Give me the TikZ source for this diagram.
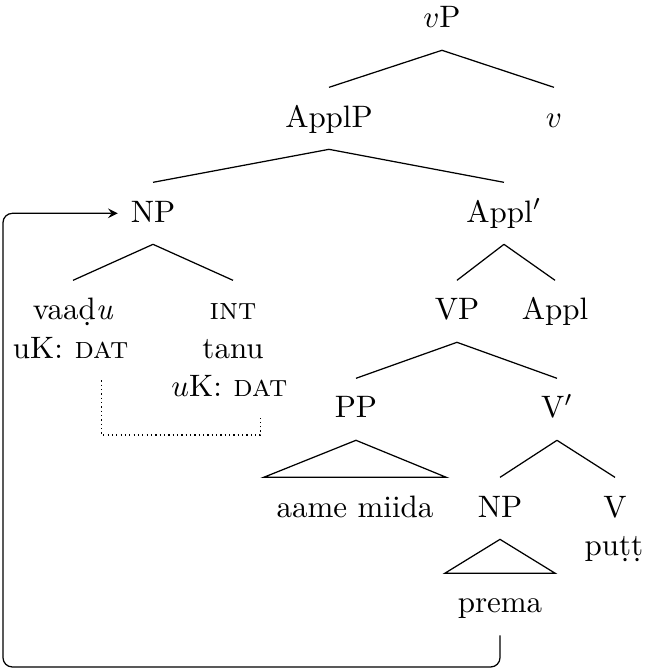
\documentclass[tikz,border=0pt]{standalone}
\begin{document}
\begin{tikzpicture}[cat/.style={anchor=base, inner xsep=4pt, inner ysep=5pt, text height=7.6pt, text depth=2pt}]
	\useasboundingbox (0,0) rectangle (7.415,-7.585);

	\node[cat] (vP) at (5.011,-0.317) {$v$P};

	\node[cat] (ApplP) at (3.730,-1.440) {ApplP};
	\node[cat] (v) at (6.281,-1.440) {$v$};

	\node[cat] (NP1) at (1.735,-2.517) {NP};
	\node[cat] (Applbar) at (5.714,-2.517) {Appl$'$};

	\node[cat] (vaadu) at (0.828,-3.628) {vaa\d{d}\textit{u}};
	\node[cat] (int) at (2.642,-3.628) {\textsc{int}};
	\node[cat] (VP) at (5.181,-3.628) {VP};
	\node[cat] (Appl) at (6.293,-3.628) {Appl};

	\node[cat, inner xsep=0pt, anchor=base east] (dat1) at (1.463,-4.059) {\textsc{dat}};
	\node[cat, inner xsep=0pt, anchor=base east] (uk1) at ([xshift=-3.33pt]dat1.base west) {uK:};
	\node[cat] (tanu) at (2.642,-4.059) {tanu};
	\node[cat, inner xsep=0pt, anchor=base east] (dat2) at (3.265,-4.490) {\textsc{dat}};
	\node[cat, inner xsep=0pt, anchor=base east] (uk2) at ([xshift=-3.33pt]dat2.base west) {$u$K:};

	\node[cat] (PP) at (4.036,-4.739) {PP};
	\node[cat] (Vbar) at (6.315,-4.739) {V$'$};

	\node[cat] (aame) at (4.025,-5.862) {aame miida};
	\node[cat] (NP2) at (5.669,-5.862) {NP};
	\node[cat] (V) at (6.973,-5.862) {V};
	\node[cat] (putt) at (6.961,-6.293) {pu\d{t}\d{t}};
	\node[cat] (prema) at (5.669,-6.950) {prema};

	\coordinate (loop) at (0.034,-7.562);

	\foreach \from / \to in {vP/ApplP, vP/v, ApplP/NP1, ApplP/Applbar, NP1/vaadu, NP1/int, Applbar/VP, Applbar/Appl, VP/PP, VP/Vbar, Vbar/NP2, Vbar/V} {
		\draw (\from.south) -- (\to.north);
	}

	\foreach \from / \to in {PP/aame, NP2/prema} {
		\draw (\from.south) -- (\to.north west) -- (\to.north east) -- cycle;
	}

	\draw[densely dotted] (dat1.south) -- ++(0,-0.62) -| (dat2.south);
	\draw[-stealth, rounded corners=3pt] (prema.south) |- (loop) |- (NP1.west);
\end{tikzpicture}
\end{document}
